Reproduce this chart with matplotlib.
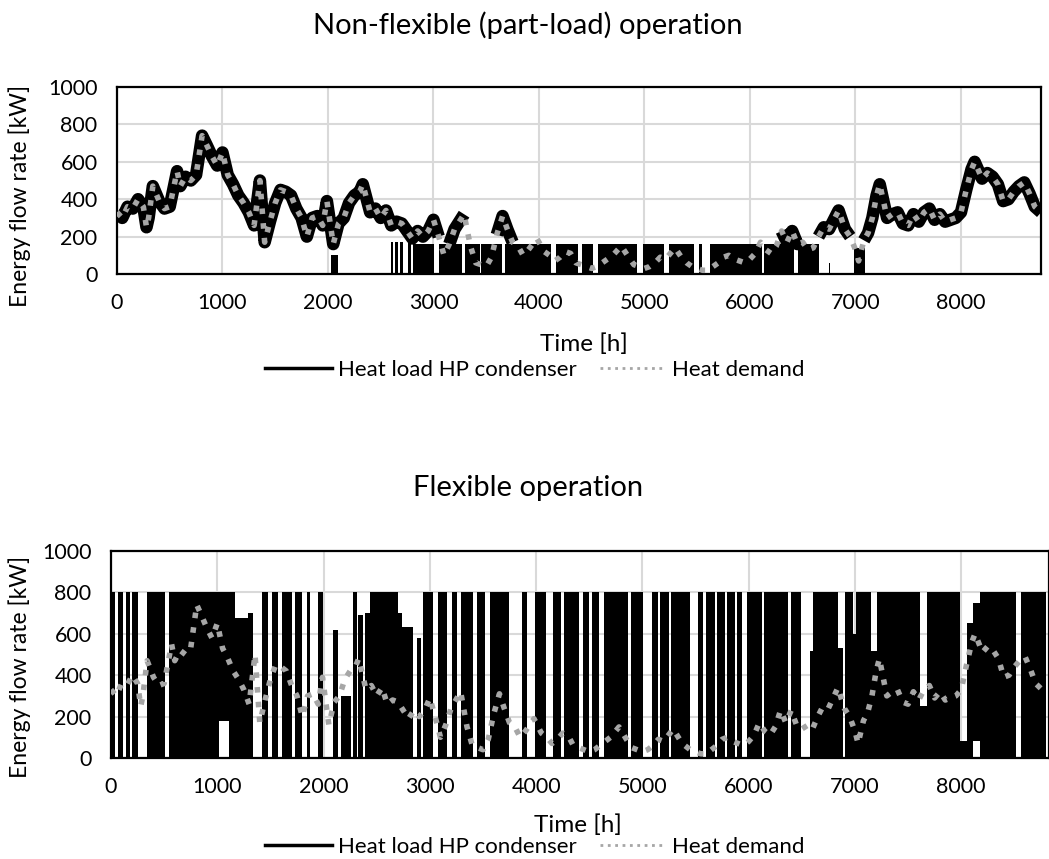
import numpy as np
import matplotlib
matplotlib.use("Agg")
import matplotlib.pyplot as plt
from matplotlib.lines import Line2D

plt.rcParams['font.family'] = ['Lato', 'DejaVu Sans']

# heat demand [h], [kW]
demand_h = [0, 50, 100, 150, 200, 250, 280, 300, 340, 400, 450, 500, 570, 600, 650, 700, 750,
            807, 850, 900, 950, 1000, 1050, 1100, 1150, 1200, 1250, 1300, 1355, 1400, 1450,
            1500, 1550, 1600, 1650, 1700, 1750, 1800, 1850, 1900, 1950, 1990, 2050, 2100,
            2150, 2200, 2250, 2300, 2330, 2400, 2450, 2500, 2550, 2600, 2650, 2700, 2750,
            2800, 2850, 2900, 2950, 3000, 3050, 3100, 3150, 3200, 3290, 3350, 3400, 3450,
            3500, 3550, 3600, 3655, 3700, 3750, 3800, 3850, 3900, 3980, 4050, 4100, 4150,
            4200, 4250, 4300, 4350, 4400, 4450, 4500, 4550, 4600, 4650, 4700, 4780, 4850,
            4900, 4950, 5000, 5050, 5100, 5150, 5200, 5290, 5350, 5400, 5450, 5500, 5550,
            5600, 5650, 5700, 5750, 5800, 5850, 5900, 5950, 6000, 6050, 6100, 6150, 6200,
            6250, 6300, 6350, 6400, 6450, 6500, 6550, 6600, 6650, 6700, 6750, 6840, 6900,
            6950, 7000, 7030, 7080, 7120, 7160, 7200, 7230, 7300, 7350, 7400, 7450, 7500,
            7550, 7600, 7650, 7700, 7750, 7800, 7850, 7900, 7950, 8000, 8050, 8100, 8130,
            8200, 8250, 8300, 8350, 8400, 8450, 8500, 8550, 8600, 8650, 8700, 8760]
demand_kw = [330, 300, 360, 350, 400, 360, 250, 300, 470, 390, 350, 360, 550, 470, 520, 500, 530,
             740, 690, 630, 580, 650, 530, 480, 420, 380, 330, 260, 500, 170, 280,
             380, 450, 440, 420, 350, 300, 200, 300, 310, 260, 390, 160, 270,
             300, 380, 420, 440, 480, 330, 350, 300, 340, 260, 280, 270, 230,
             190, 230, 200, 230, 290, 200, 100, 160, 240, 320, 150, 60, 50,
             40, 90, 210, 310, 240, 170, 150, 100, 130, 190, 120, 100, 70,
             90, 120, 110, 60, 50, 40, 30, 40, 60, 80, 100, 150, 90,
             50, 40, 30, 40, 60, 90, 80, 140, 90, 60, 40, 30, 20,
             20, 40, 60, 90, 100, 80, 70, 60, 80, 110, 170, 130, 110,
             150, 230, 170, 230, 160, 170, 130, 140, 200, 250, 240, 340, 240,
             200, 130, 70, 180, 220, 300, 420, 480, 300, 320, 330, 270, 260,
             320, 280, 330, 350, 290, 320, 280, 290, 300, 330, 450, 560, 600,
             510, 540, 520, 480, 390, 400, 440, 470, 490, 430, 360, 330]

MIN_LOAD = 160  # below this the HP cycles on/off in part-load mode

# part-load mode: on/off cycling periods [start h, end h, top kW]
part_start = [0, 2025, 2595, 2632, 2680, 2760, 2810, 3050, 3295, 3455, 3675, 4160, 4410, 4555,
              4984, 5229, 5514, 5626, 6134, 6451, 6745, 6985]
part_end = [8, 2095, 2620, 2660, 2715, 2785, 3005, 3275, 3440, 3645, 4117, 4370, 4515, 4927,
            5181, 5467, 5546, 6118, 6419, 6657, 6760, 7086]
part_top = [800, 100, 170, 170, 170, 170, 160, 160, 160, 160, 160, 160, 160, 160,
            160, 160, 160, 160, 160, 160, 60, 140]

# flexible mode: periods of on/off switching [start h, end h, low kW, high kW]
flex_start = [0, 69, 138, 200, 336, 546, 1020, 1113, 1167, 1286, 1418, 1511, 1606, 1731, 1843,
              1951, 2092, 2160, 2273, 2327, 2390, 2437, 2703, 2734, 2882, 2932, 3079, 3205,
              3290, 3440, 3565, 3872, 3988, 4161, 4261, 4443, 4522, 4641, 4891, 5093, 5165,
              5268, 5526, 5594, 5698, 5792, 5895, 5989, 6146, 6396, 6580, 6607, 6843, 6905,
              6984, 7014, 7155, 7203, 7611, 7674, 7987, 8050, 8113, 8176, 8558]
flex_end = [38, 116, 179, 257, 508, 1020, 1113, 1167, 1286, 1339, 1480, 1568, 1700, 1796, 1872,
            1998, 2139, 2260, 2311, 2368, 2437, 2703, 2734, 2844, 2913, 3032, 3164, 3252,
            3408, 3518, 3747, 3910, 4092, 4230, 4403, 4496, 4591, 4860, 5007, 5143, 5249,
            5447, 5574, 5682, 5776, 5870, 5933, 6121, 6371, 6497, 6607, 6843, 6890, 6984,
            7014, 7155, 7203, 7611, 7674, 7987, 8050, 8113, 8176, 8520, 8800]
flex_low = [0, 0, 0, 0, 0, 0, 180, 0, 0, 0, 0, 0, 0, 0, 0,
            0, 0, 0, 0, 0, 0, 0, 0, 0, 0, 0, 0, 0,
            0, 0, 0, 0, 0, 0, 0, 0, 0, 0, 0, 0, 0,
            0, 0, 0, 0, 0, 0, 0, 0, 0, 0, 0, 0, 0,
            0, 0, 0, 0, 0, 0, 0, 0, 80, 0, 0]
flex_high = [800, 800, 800, 800, 800, 800, 800, 800, 675, 700, 800, 800, 800, 800, 800,
             800, 620, 300, 800, 690, 700, 800, 700, 635, 580, 800, 800, 800,
             800, 800, 800, 800, 800, 800, 800, 800, 800, 800, 800, 800, 800,
             800, 800, 800, 800, 800, 800, 800, 800, 800, 515, 800, 530, 800,
             600, 800, 515, 800, 250, 800, 80, 650, 750, 800, 800]

titles = ['Non-flexible (part-load) operation', 'Flexible operation']
xticks = np.arange(0, 9000, 1000)
yticks = np.arange(0, 1200, 200)

GREY = '#A6A6A6'
GRID = '#D9D9D9'

demand_h = np.array(demand_h)
demand_kw = np.array(demand_kw, dtype=float)
hp_part = np.where(demand_kw < MIN_LOAD, np.nan, demand_kw)

fig = plt.figure(figsize=(10.49, 8.59), dpi=100)
ax1 = fig.add_axes([0.1115, 0.681, 0.881, 0.2177])
ax2 = fig.add_axes([0.1058, 0.1176, 0.894, 0.241])


def style(ax, xmax, title, title_y, legend_y, xlab_pos, ylab_pos):
    ax.set_xlim(0, xmax)
    ax.set_ylim(0, 1000)
    ax.set_xticks(xticks)
    ax.set_yticks(yticks)
    ax.grid(True, color=GRID, lw=1.5)
    ax.set_axisbelow(True)
    ax.tick_params(length=0, labelsize=15.5)
    ax.tick_params(axis='x', pad=14)
    ax.tick_params(axis='y', pad=14)
    for s in ax.spines.values():
        s.set_linewidth(1.6)
    ax.set_ylabel('Energy flow rate [kW]', fontsize=16.5)
    ax.yaxis.set_label_coords(*ylab_pos)
    ax.set_xlabel('Time [h]', fontsize=17.5)
    ax.xaxis.set_label_coords(*xlab_pos)
    fig.text(0.503, title_y, title, ha='center', va='center', fontsize=21)
    handles = [Line2D([], [], color='black', lw=2.5),
               Line2D([], [], color=GREY, lw=2, ls=':')]
    fig.legend(handles, ['Heat load HP condenser', 'Heat demand'], loc='center',
               bbox_to_anchor=(0.51, legend_y), ncol=2, frameon=False, fontsize=16,
               handlelength=3.0, handletextpad=0.25, columnspacing=1.05)


# non-flexible
ax1.bar(part_start, np.array(part_top), width=np.array(part_end) - np.array(part_start),
        align='edge', color='black', lw=0, zorder=2)
ax1.plot(demand_h, hp_part, color='black', lw=9, solid_capstyle='butt', zorder=3)
ax1.plot(demand_h, demand_kw, color=GREY, lw=4, ls=':', zorder=4)
style(ax1, 8760, titles[0], 0.971, 0.569, (0.505, -0.315), (-0.093, 0.42))

# flexible
ax2.bar(flex_start, np.array(flex_high) - np.array(flex_low),
        width=np.array(flex_end) - np.array(flex_start), bottom=flex_low,
        align='edge', color='black', lw=0, zorder=2)
ax2.plot(demand_h, demand_kw, color=GREY, lw=4, ls=':', zorder=4)
style(ax2, 8824, titles[1], 0.432, 0.014, (0.498, -0.27), (-0.085, 0.44))

fig.savefig('out.png', dpi=100)
